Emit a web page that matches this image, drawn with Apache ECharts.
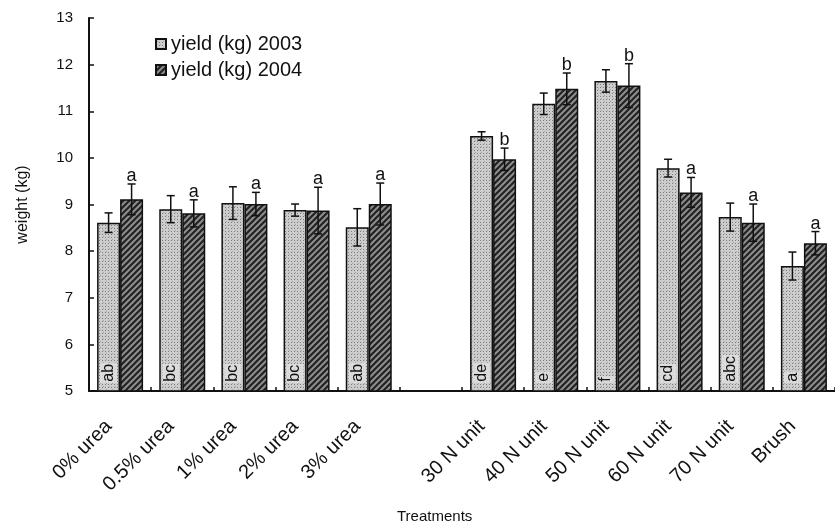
<!DOCTYPE html>
<html>
<head>
<meta charset="utf-8">
<script src="https://cdn.jsdelivr.net/npm/echarts@6/dist/echarts.min.js"></script>
<style>html,body{margin:0;padding:0;background:#fff}#c{width:835px;height:529px}</style>
</head>
<body>
<div id="c"></div>
<script>
const categories = ['0% urea','0.5% urea','1% urea','2% urea','3% urea','','30 N unit','40 N unit','50 N unit','60 N unit','70 N unit','Brush'];
const yield2003 = [8.61, 8.90, 9.03, 8.88, 8.51, null, 10.47, 11.16, 11.65, 9.78, 8.73, 7.68];
const err2003   = [0.21, 0.29, 0.35, 0.13, 0.40, null, 0.09, 0.23, 0.24, 0.19, 0.30, 0.30];
const yield2004 = [9.11, 8.81, 9.01, 8.87, 9.01, null, 9.97, 11.48, 11.55, 9.26, 8.61, 8.17];
const err2004   = [0.33, 0.29, 0.25, 0.50, 0.45, null, 0.24, 0.34, 0.47, 0.32, 0.40, 0.25];
const letters2003 = ['ab','bc','bc','bc','ab','','de','e','f','cd','abc','a'];
const letters2004 = ['a','a','a','a','a','','b','b','b','a','a','a'];
const yTicks = {min: 5, max: 13, interval: 1};

const FONT = "'Liberation Sans', Arial, sans-serif";
const BW = 23;

function makePattern(kind) {
  const c = document.createElement('canvas');
  c.width = 6; c.height = 6;
  const g = c.getContext('2d');
  if (kind === 'dots') {
    g.fillStyle = '#cdcdcd'; g.fillRect(0,0,6,6);
    g.fillStyle = '#7c7c7c';
    g.fillRect(0,0,1,1); g.fillRect(3,3,1,1); g.fillRect(3,0,1,1); g.fillRect(0,3,1,1);
    g.fillStyle = '#a4a4a4';
    g.fillRect(1,2,1,1); g.fillRect(4,5,1,1);
  } else {
    g.fillStyle = '#8e8e8e'; g.fillRect(0,0,6,6);
    g.strokeStyle = '#222'; g.lineWidth = 2.2;
    g.beginPath();
    g.moveTo(-3,9); g.lineTo(9,-3);
    g.moveTo(-6,6); g.lineTo(6,-6);
    g.moveTo(0,12); g.lineTo(12,0);
    g.stroke();
  }
  return {image: c, repeat: 'repeat'};
}

const chart = echarts.init(document.getElementById('c'), null, {renderer: 'canvas'});

function errRender(seriesOffset, vals, errs, letters) {
  return function (params, api) {
    const i = api.value(0);
    const v = vals[i], e = errs[i];
    if (v == null) return null;
    const top = api.coord([i, v + e]);
    const bot = api.coord([i, v - e]);
    const x = top[0] + seriesOffset;
    const cap = 4;
    const style = {stroke: '#111', lineWidth: 1.5};
    const children = [
      {type: 'line', shape: {x1: x, y1: top[1], x2: x, y2: bot[1]}, style},
      {type: 'line', shape: {x1: x - cap, y1: top[1], x2: x + cap, y2: top[1]}, style},
      {type: 'line', shape: {x1: x - cap, y1: bot[1], x2: x + cap, y2: bot[1]}, style}
    ];
    if (letters && letters[i]) {
      children.push({type: 'text', x: x, y: top[1] + 1,
        style: {text: letters[i], fill: '#111', font: '18px ' + FONT, align: 'center', verticalAlign: 'bottom'}});
    }
    return {type: 'group', children};
  };
}

const idx = categories.map((c, i) => i).filter(i => yield2003[i] != null);

chart.setOption({
  backgroundColor: '#fff',
  animation: false,
  textStyle: {fontFamily: FONT},
  grid: {left: 89, right: 0, top: 18, bottom: 138},
  legend: {
    orient: 'vertical', left: 150, top: 29, itemWidth: 10, itemHeight: 10, itemGap: 6,
    icon: 'rect',
    textStyle: {fontSize: 20, color: '#111', fontFamily: FONT},
    data: ['yield (kg) 2003', 'yield (kg) 2004']
  },
  xAxis: {
    type: 'category', data: categories,
    axisLine: {lineStyle: {color: '#111', width: 2}},
    axisTick: {show: true, inside: true, length: 4, lineStyle: {color: '#111', width: 1.5}},
    axisLabel: {rotate: 45, fontSize: 20, color: '#111', margin: 21, padding: [0, 16, 0, 0], interval: 0, fontFamily: FONT}
  },
  yAxis: {
    type: 'value', min: yTicks.min, max: yTicks.max, interval: yTicks.interval,
    name: 'weight (kg)', nameLocation: 'middle', nameGap: 58,
    nameTextStyle: {fontSize: 16, color: '#111', fontFamily: FONT},
    splitLine: {show: false},
    axisLine: {show: true, lineStyle: {color: '#111', width: 2}},
    axisTick: {show: true, inside: true, length: 5, lineStyle: {color: '#111', width: 1.5}},
    axisLabel: {fontSize: 15, color: '#111', margin: 16, fontFamily: FONT}
  },
  graphic: [{type: 'text', left: 397, top: 509, style: {text: 'Treatments', font: '15px ' + FONT, fill: '#111'}}],
  series: [
    {
      name: 'yield (kg) 2003', type: 'bar', barWidth: BW, barGap: '0%',
      itemStyle: {color: makePattern('dots'), borderColor: '#111', borderWidth: 1.5},
      data: yield2003.map((v, i) => v == null ? '-' : v),
      label: {
        show: true, position: 'insideBottom', rotate: 90, align: 'left', verticalAlign: 'middle', distance: 9,
        fontSize: 16, color: '#111', fontFamily: FONT, backgroundColor: 'rgba(225,225,225,0.8)', padding: [1, 1, 0, 1],
        formatter: p => letters2003[p.dataIndex]
      }
    },
    {
      name: 'yield (kg) 2004', type: 'bar', barWidth: BW, barGap: '0%',
      itemStyle: {color: makePattern('hatch'), borderColor: '#111', borderWidth: 1.5},
      data: yield2004.map((v, i) => v == null ? '-' : v)
    },
    {
      type: 'custom', renderItem: errRender(-BW / 2, yield2003, err2003, null),
      data: idx.map(i => [i, yield2003[i]]), z: 5
    },
    {
      type: 'custom', renderItem: errRender(BW / 2, yield2004, err2004, letters2004),
      data: idx.map(i => [i, yield2004[i]]), z: 5
    }
  ]
});
</script>
</body>
</html>
